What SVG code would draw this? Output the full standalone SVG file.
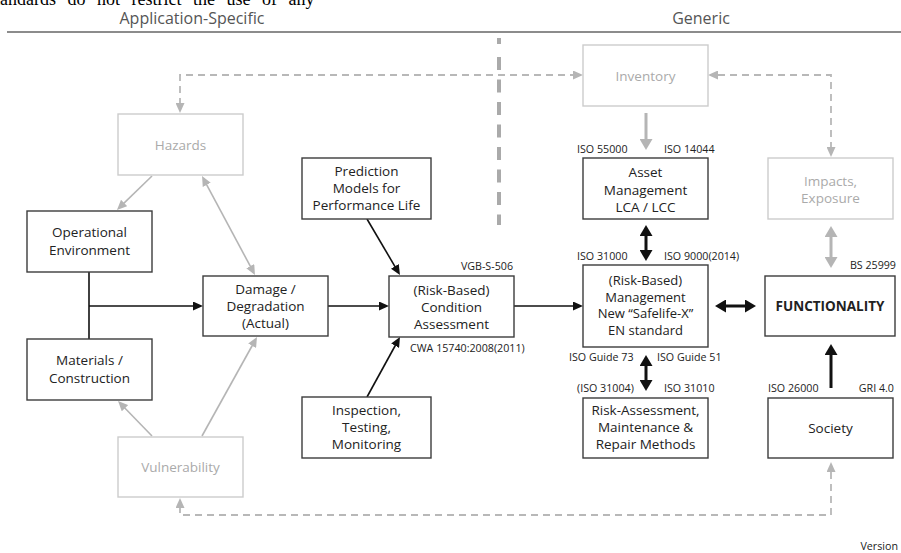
<svg xmlns="http://www.w3.org/2000/svg" width="901" height="553" viewBox="0 0 901 553">
<style>
  text { font-family: "Open Sans", "Noto Sans", "Liberation Sans", sans-serif; }
  .box { fill: #fff; stroke: #3c3c3c; stroke-width: 1.4; }
  .gbox { fill: #fff; stroke: #cccccc; stroke-width: 1.4; }
  .lbl { font-size: 13.5px; fill: #222; text-anchor: middle; }
  .glbl { font-size: 13.5px; fill: #aaaaaa; text-anchor: middle; }
  .std { font-size: 10.7px; fill: #222; }
  .hdr { font-size: 16px; fill: #555; text-anchor: middle; }
  .bl { fill: none; stroke: #111; stroke-width: 1.6; }
  .gl { fill: none; stroke: #b5b5b5; stroke-width: 1.6; }
  .bt { fill: none; stroke: #111; stroke-width: 3; }
  .gt { fill: none; stroke: #b5b5b5; stroke-width: 3; }
  .dash { fill: none; stroke: #b8b8b8; stroke-width: 1.8; stroke-dasharray: 7 5; }
</style>
<defs>
  <marker id="ab" markerUnits="userSpaceOnUse" markerWidth="10" markerHeight="9" refX="2" refY="4.5" orient="auto-start-reverse">
    <path d="M0,0 L10,4.5 L0,9 z" fill="#111"/>
  </marker>
  <marker id="ag" markerUnits="userSpaceOnUse" markerWidth="10" markerHeight="9" refX="2" refY="4.5" orient="auto-start-reverse">
    <path d="M0,0 L10,4.5 L0,9 z" fill="#b5b5b5"/>
  </marker>
  <marker id="abT" markerUnits="userSpaceOnUse" markerWidth="11" markerHeight="13" refX="2" refY="6.5" orient="auto-start-reverse">
    <path d="M0,0 L11,6.5 L0,13 z" fill="#111"/>
  </marker>
  <marker id="agT" markerUnits="userSpaceOnUse" markerWidth="11" markerHeight="13" refX="2" refY="6.5" orient="auto-start-reverse">
    <path d="M0,0 L11,6.5 L0,13 z" fill="#b5b5b5"/>
  </marker>
</defs>

<text x="-12" y="5" font-size="18" word-spacing="7" fill="#000" style="font-family:'Liberation Serif', 'Times New Roman', serif">standards do not restrict the use of any</text>
<text class="hdr" x="192" y="24">Application-Specific</text>
<text class="hdr" x="701" y="24">Generic</text>
<line x1="7" y1="32" x2="901" y2="32" stroke="#666" stroke-width="1.5"/>
<line x1="499" y1="38" x2="499" y2="44" stroke="#aaa" stroke-width="4"/>
<line x1="499" y1="57" x2="499" y2="225" stroke="#aaa" stroke-width="4" stroke-dasharray="13 9.5"/>

<g id="connectors">
  <path class="dash" d="M180,105 V75 H575" marker-start="url(#ag)" marker-end="url(#ag)"/>
  <path class="dash" d="M831,149 V75 H716" marker-start="url(#ag)" marker-end="url(#ag)"/>
  <path class="dash" d="M180,506 V515 H831 V470" marker-start="url(#ag)" marker-end="url(#ag)"/>

  <line class="gl" x1="152" y1="176" x2="122.7" y2="204.4" marker-end="url(#ag)"/>
  <line class="gl" x1="205.8" y1="183.1" x2="251.2" y2="267.9" marker-start="url(#ag)" marker-end="url(#ag)"/>
  <line class="gl" x1="152" y1="436" x2="123.6" y2="406.7" marker-end="url(#ag)"/>
  <line class="gl" x1="202" y1="436" x2="253.1" y2="344" marker-end="url(#ag)"/>

  <line class="bl" x1="89" y1="272" x2="89" y2="339"/>
  <line class="bl" x1="89" y1="306" x2="195" y2="306" marker-end="url(#ab)"/>
  <line class="bl" x1="328" y1="306" x2="381" y2="306" marker-end="url(#ab)"/>
  <line class="bl" x1="514" y1="306" x2="575" y2="306" marker-end="url(#ab)"/>
  <line class="bl" x1="367" y1="219" x2="395.9" y2="268.1" marker-end="url(#ab)"/>
  <line class="bl" x1="367" y1="397" x2="396.1" y2="344" marker-end="url(#ab)"/>

  <line class="gt" x1="646" y1="113" x2="646" y2="141" marker-end="url(#agT)"/>
  <line class="bt" x1="646" y1="234" x2="646" y2="252" marker-start="url(#abT)" marker-end="url(#abT)"/>
  <line class="bt" x1="646" y1="364" x2="646" y2="382" marker-start="url(#abT)" marker-end="url(#abT)"/>
  <line class="bt" x1="724" y1="306" x2="747" y2="306" marker-start="url(#abT)" marker-end="url(#abT)"/>
  <line class="bt" x1="831" y1="388" x2="831" y2="353" marker-end="url(#abT)"/>
  <line class="gt" x1="831" y1="235" x2="831" y2="259" marker-start="url(#agT)" marker-end="url(#agT)"/>
</g>

<g id="hazards">
  <rect class="gbox" x="118" y="114" width="125" height="61"/>
  <text class="glbl" x="180.5" y="149.5">Hazards</text>
</g>
<g id="operational-environment">
  <rect class="box" x="27" y="211" width="125" height="61"/>
  <text class="lbl" x="89.5" y="236.5">Operational</text>
  <text class="lbl" x="89.5" y="254.5">Environment</text>
</g>
<g id="materials">
  <rect class="box" x="27" y="339" width="125" height="61"/>
  <text class="lbl" x="89.5" y="365">Materials /</text>
  <text class="lbl" x="89.5" y="383">Construction</text>
</g>
<g id="vulnerability">
  <rect class="gbox" x="118" y="437" width="125" height="60"/>
  <text class="glbl" x="180.5" y="471.5">Vulnerability</text>
</g>
<g id="damage">
  <rect class="box" x="203" y="276" width="125" height="60"/>
  <text class="lbl" x="265.5" y="294">Damage /</text>
  <text class="lbl" x="265.5" y="311">Degradation</text>
  <text class="lbl" x="265.5" y="328">(Actual)</text>
</g>
<g id="prediction">
  <rect class="box" x="302" y="158" width="129" height="61"/>
  <text class="lbl" x="366.5" y="176">Prediction</text>
  <text class="lbl" x="366.5" y="193">Models for</text>
  <text class="lbl" x="366.5" y="210">Performance Life</text>
</g>
<g id="condition">
  <rect class="box" x="389" y="276" width="125" height="61"/>
  <text class="lbl" x="451.5" y="294.5">(Risk-Based)</text>
  <text class="lbl" x="451.5" y="311.5">Condition</text>
  <text class="lbl" x="451.5" y="328.5">Assessment</text>
  <text class="std" x="513" y="270" text-anchor="end">VGB-S-506</text>
  <text class="std" x="410" y="352">CWA 15740:2008(2011)</text>
</g>
<g id="inspection">
  <rect class="box" x="302" y="397" width="129" height="61"/>
  <text class="lbl" x="366.5" y="415">Inspection,</text>
  <text class="lbl" x="366.5" y="432">Testing,</text>
  <text class="lbl" x="366.5" y="449">Monitoring</text>
</g>
<g id="inventory">
  <rect class="gbox" x="583" y="45" width="125" height="61"/>
  <text class="glbl" x="645.5" y="80.5">Inventory</text>
</g>
<g id="asset-management">
  <rect class="box" x="583" y="158" width="125" height="61"/>
  <text class="lbl" x="645.5" y="176.5">Asset</text>
  <text class="lbl" x="645.5" y="194.5">Management</text>
  <text class="lbl" x="645.5" y="211.5">LCA / LCC</text>
  <text class="std" x="577" y="153">ISO 55000</text>
  <text class="std" x="664" y="153">ISO 14044</text>
</g>
<g id="management">
  <rect class="box" x="583" y="265" width="125" height="82"/>
  <text class="lbl" x="645.5" y="285" style="font-size:13px">(Risk-Based)</text>
  <text class="lbl" x="645.5" y="301.5" style="font-size:13px">Management</text>
  <text class="lbl" x="645.5" y="318" style="font-size:13px">New “Safelife-X”</text>
  <text class="lbl" x="645.5" y="334.5" style="font-size:13px">EN standard</text>
  <text class="std" x="577" y="260">ISO 31000</text>
  <text class="std" x="664" y="260">ISO 9000(2014)</text>
  <text class="std" x="569" y="361">ISO Guide 73</text>
  <text class="std" x="657" y="361">ISO Guide 51</text>
</g>
<g id="risk-assessment">
  <rect class="box" x="583" y="398" width="125" height="60"/>
  <text class="lbl" x="645.5" y="414.5">Risk-Assessment,</text>
  <text class="lbl" x="645.5" y="431.5">Maintenance &amp;</text>
  <text class="lbl" x="645.5" y="448.5">Repair Methods</text>
  <text class="std" x="577" y="392">(ISO 31004)</text>
  <text class="std" x="664" y="392">ISO 31010</text>
</g>
<g id="impacts">
  <rect class="gbox" x="768" y="158" width="125" height="61"/>
  <text class="glbl" x="830.5" y="185.5">Impacts,</text>
  <text class="glbl" x="830.5" y="202.5">Exposure</text>
</g>
<g id="functionality">
  <rect class="box" x="765" y="276" width="130" height="60"/>
  <text class="lbl" x="830" y="311" font-weight="bold">FUNCTIONALITY</text>
  <text class="std" x="896" y="269" text-anchor="end">BS 25999</text>
</g>
<g id="society">
  <rect class="box" x="768" y="398" width="125" height="60"/>
  <text class="lbl" x="830.5" y="432.5">Society</text>
  <text class="std" x="768" y="392">ISO 26000</text>
  <text class="std" x="894" y="392" text-anchor="end">GRI 4.0</text>
</g>
<text class="std" x="898" y="550" text-anchor="end">Version</text>
</svg>
